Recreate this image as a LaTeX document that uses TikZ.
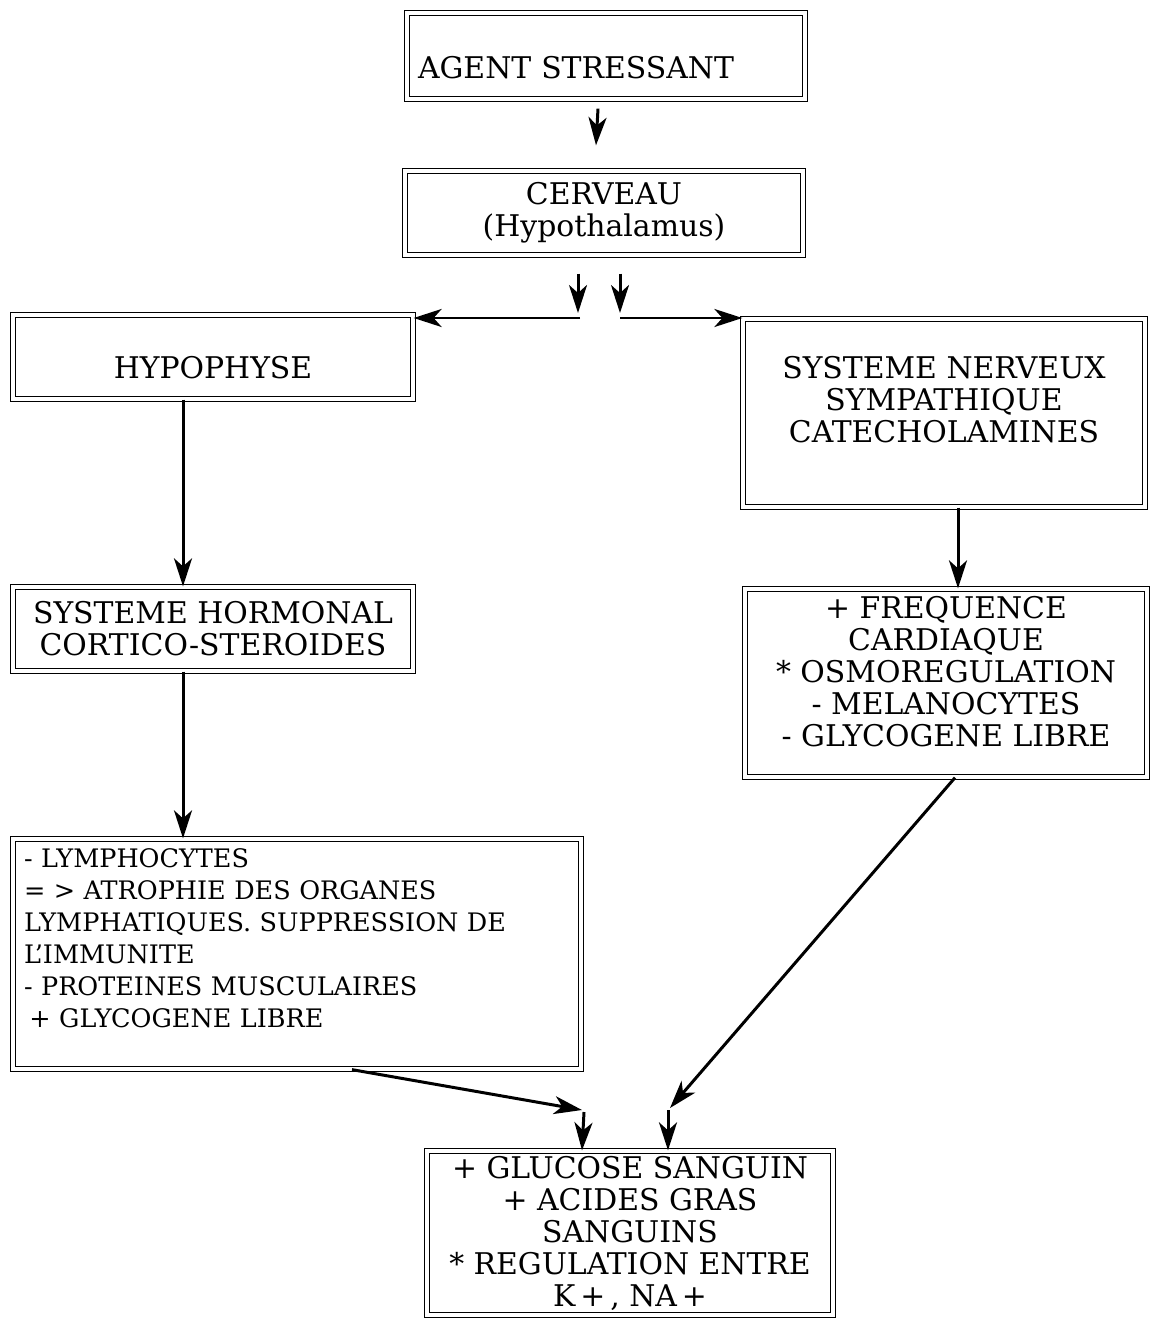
\documentclass[tikz,border=0pt]{standalone}
\usepackage{fontspec}
\setmainfont{DejaVu Serif}
\usepackage{tikz}
\usetikzlibrary{arrows.meta,positioning,calc}

\begin{document}
\begin{tikzpicture}[x=0.02cm,y=-0.02cm,
    box/.style={draw,double,line width=0.75pt,double distance=2pt,inner sep=2pt,
      align=center,font=\fontsize{17}{18.2}\selectfont},
    arr/.style={-{Stealth[length=0.56cm,width=0.36cm,inset=0.16cm]},line width=1.7pt}]
    \useasboundingbox (0,0) rectangle (1151,1321);

    % Top
    \node[box,minimum width=7.96cm,minimum height=1.72cm,align=left,text width=7.52cm] (agent) at (606,56)
      {\raisebox{-0.24cm}[\height][\depth]{AGENT STRESSANT}};
    \node[box,minimum width=7.96cm,minimum height=1.68cm] (cerveau) at (604,213) {CERVEAU\\(Hypothalamus)};

    \draw[arr] ($(agent.south)+(-8,9)$) -- ($(cerveau.north)+(-8,-25)$);

    % Split
    \coordinate (splitL) at (580,318);
    \coordinate (splitR) at (620,318);
    \draw[arr] ($(cerveau.south -| splitL)+(-2,18)$) -- ($(splitL)+(-2,-5)$);
    \draw[arr] ($(cerveau.south -| splitR)+(0,18)$) -- ($(splitR)+(0,-5)$);

    % Left branch
    \node[box,minimum width=8.0cm,minimum height=1.68cm] (hypo) at (213,357)
      {\raisebox{-0.22cm}[\height][\depth]{HYPOPHYSE}};
    \node[box,minimum width=8.0cm,minimum height=1.68cm] (horm) at (213,629) {SYSTEME HORMONAL\\CORTICO-STEROIDES};
    \node[box,minimum width=11.36cm,minimum height=4.6cm,align=left,text width=10.92cm,
      font=\fontsize{14.5}{18.2}\selectfont] (lymph) at (297,954)
      {- LYMPHOCYTES\\= > ATROPHIE DES ORGANES\\LYMPHATIQUES. SUPPRESSION DE\\L'IMMUNITE\\- PROTEINES MUSCULAIRES\\\hspace{3pt}+ GLYCOGENE LIBRE\\[-0.2cm]\strut};

    \draw[arr] (splitL) -- (splitL -| hypo.east);
    \draw[arr] ([xshift=-0.6cm]hypo.south) -- ([xshift=-0.6cm]horm.north);
    \draw[arr] ([xshift=-0.6cm]horm.south) -- ([xshift=-0.6cm]horm.south |- lymph.north);

    % Right branch
    \node[box,minimum width=8.04cm,minimum height=3.76cm] (sns) at (944,413)
      {SYSTEME NERVEUX\\SYMPATHIQUE\\CATECHOLAMINES\\[-0.3cm]\strut};
    \node[box,minimum width=8.04cm,minimum height=3.76cm] (freq) at (946,683)
      {+ FREQUENCE\\CARDIAQUE\\* OSMOREGULATION\\- MELANOCYTES\\- GLYCOGENE LIBRE\\[-0.38cm]\strut};

    \draw[arr] (splitR) -- (splitR -| sns.west);
    \draw[arr] ([xshift=0.28cm]sns.south) -- ([xshift=0.28cm]sns.south |- freq.north);

    % Bottom
    \node[box,minimum width=8.12cm,minimum height=3.28cm] (result) at (630,1233)
      {+ GLUCOSE SANGUIN\\+ ACIDES GRAS\\SANGUINS\\* REGULATION ENTRE\\K\,+\,, NA\,+};

    \coordinate (joinL) at (582,1110);
    \coordinate (joinR) at (670,1108);
    \draw[arr] ([xshift=1.1cm]lymph.south) -- (joinL);
    \draw[arr] ([xshift=0.18cm]freq.south) -- (joinR);
    \draw[arr] ($(joinL)+(2,2)$) -- (joinL |- result.north);
    \draw[arr] ($(joinR)+(-2,2)$) -- ($(joinR |- result.north)+(-2,0)$);
\end{tikzpicture}
\end{document}
